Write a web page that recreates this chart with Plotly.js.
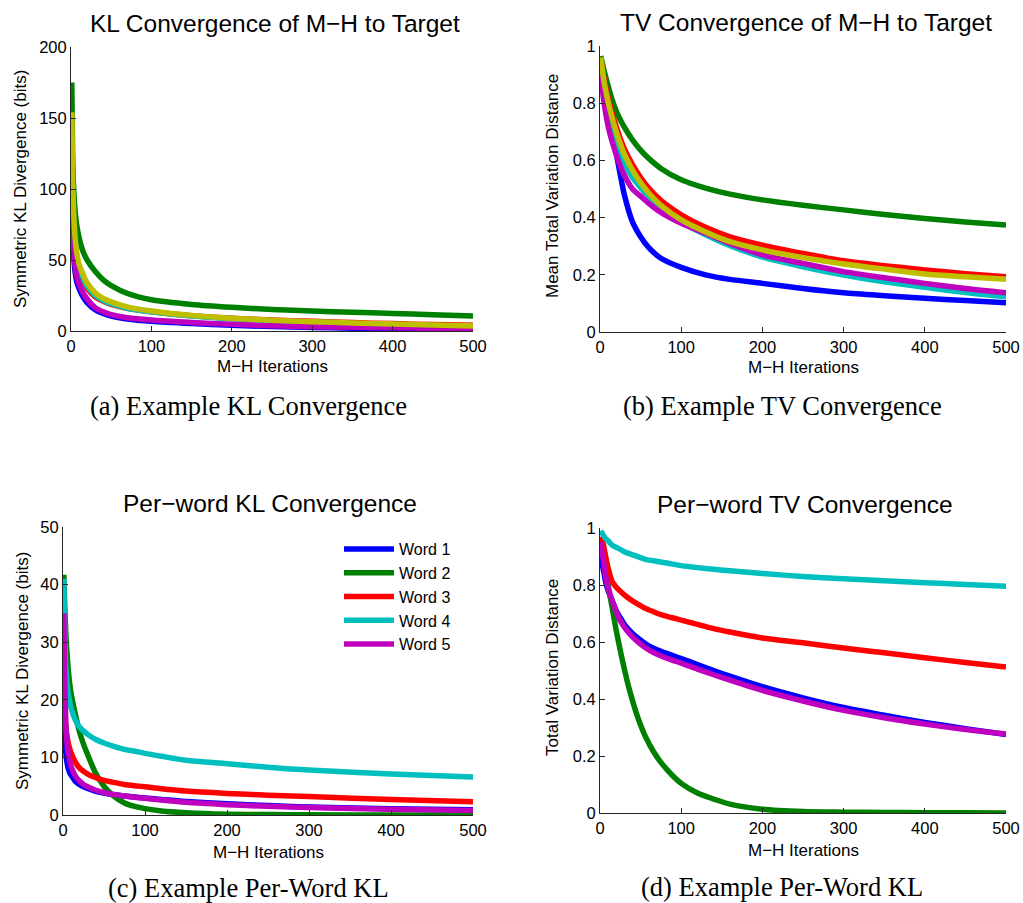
<!DOCTYPE html>
<html>
<head>
<meta charset="utf-8">
<script src="https://cdn.plot.ly/plotly-3.0.1.min.js"></script>
<style>
html,body{margin:0;padding:0;background:#fff;}
#chart{width:1023px;height:903px;}
</style>
</head>
<body>
<div id="chart"></div>
<script>
// ---------- DATA ----------
// (a) Symmetric KL divergence (bits) vs M-H iterations
var klX = [1, 2, 3, 5, 7, 10, 15, 20, 30, 40, 50, 70, 100, 150, 200, 250, 300, 350, 400, 450, 500];
var klBlue    = [85, 68, 56, 42, 35, 30, 24, 20, 15, 12.3, 10.5, 8.5, 6.8, 5.2, 4.0, 3.1, 2.5, 2.0, 1.6, 1.2, 0.9];
var klGreen   = [175, 125, 105, 85, 75, 66, 56, 50, 42, 36, 32, 26.5, 22, 18.7, 16.7, 15.2, 14.1, 13.2, 12.4, 11.5, 10.6];
var klRed     = [110, 90, 75, 58, 49, 42, 35, 30, 24, 21, 18.8, 16, 13.6, 10.8, 9.0, 7.7, 6.8, 5.9, 5.2, 4.5, 4.0];
var klCyan    = [120, 95, 80, 61, 51, 44, 37, 31.5, 25, 21.5, 19.2, 16, 13.5, 10.5, 8.6, 7.2, 6.2, 5.3, 4.5, 3.8, 3.2];
var klMagenta = [95, 75, 62, 47, 39, 33, 27, 22.5, 16.5, 13.5, 11.5, 9.3, 7.7, 6, 4.7, 3.7, 3.0, 2.6, 2.3, 1.8, 1.4];
var klYellow  = [154, 110, 88, 66, 56, 47, 40, 34, 27, 23, 20.5, 17, 14.1, 11, 8.9, 7.6, 6.6, 5.7, 4.9, 4.2, 3.5];

// (b) Mean total variation distance vs M-H iterations
var tvX = [1, 5, 10, 15, 20, 25, 30, 40, 50, 60, 75, 100, 130, 160, 200, 250, 300, 350, 400, 450, 500];
var tvBlue    = [0.88, 0.835, 0.77, 0.70, 0.625, 0.55, 0.48, 0.385, 0.333, 0.295, 0.258, 0.226, 0.2, 0.184, 0.17, 0.152, 0.137, 0.127, 0.118, 0.11, 0.102];
var tvGreen   = [0.965, 0.915, 0.86, 0.812, 0.773, 0.742, 0.716, 0.672, 0.636, 0.607, 0.572, 0.532, 0.503, 0.482, 0.462, 0.443, 0.427, 0.411, 0.397, 0.385, 0.374];
var tvRed     = [0.955, 0.885, 0.82, 0.765, 0.718, 0.676, 0.64, 0.585, 0.54, 0.503, 0.46, 0.41, 0.366, 0.333, 0.304, 0.275, 0.249, 0.232, 0.217, 0.204, 0.193];
var tvCyan    = [0.94, 0.85, 0.775, 0.715, 0.665, 0.625, 0.59, 0.54, 0.505, 0.475, 0.438, 0.385, 0.34, 0.302, 0.262, 0.228, 0.199, 0.176, 0.156, 0.138, 0.123];
var tvMagenta = [0.90, 0.80, 0.72, 0.665, 0.62, 0.58, 0.548, 0.50, 0.475, 0.45, 0.418, 0.38, 0.345, 0.31, 0.27, 0.24, 0.211, 0.19, 0.17, 0.152, 0.137];
var tvYellow  = [0.96, 0.875, 0.805, 0.748, 0.70, 0.658, 0.622, 0.566, 0.522, 0.486, 0.443, 0.392, 0.35, 0.316, 0.287, 0.26, 0.238, 0.22, 0.203, 0.193, 0.184];

// (c) Per-word symmetric KL divergence (bits)
var wordNames = ["Word 1", "Word 2", "Word 3", "Word 4", "Word 5"];
var pkX = [1, 2, 3, 4, 6, 8, 10, 15, 20, 25, 30, 40, 50, 60, 75, 90, 100, 120, 150, 200, 250, 300, 400, 500];
var pkWord1 = [25, 15, 11.5, 10, 8.3, 7.4, 6.9, 5.9, 5.3, 4.9, 4.6, 4.1, 3.8, 3.55, 3.3, 3.1, 2.95, 2.7, 2.35, 1.95, 1.65, 1.4, 1.1, 0.9];
var pkWord2 = [41.7, 37, 33, 30, 26, 23, 21, 17.5, 14.5, 12.3, 10.5, 7.2, 5, 3.5, 2.1, 1.4, 1.1, 0.7, 0.4, 0.15, 0.07, 0.03, 0.01, 0];
var pkWord3 = [22, 18.5, 16, 14.5, 12.8, 11.6, 10.7, 9.2, 8.2, 7.6, 7.1, 6.5, 6.0, 5.7, 5.3, 5.05, 4.9, 4.55, 4.15, 3.75, 3.45, 3.2, 2.7, 2.3];
var pkWord4 = [41, 32, 27, 24.5, 21.5, 19.8, 18.5, 16.5, 15.3, 14.6, 14, 13.1, 12.5, 12, 11.4, 11, 10.7, 10.2, 9.5, 8.9, 8.3, 7.8, 7.1, 6.6];
var pkWord5 = [35, 24, 18, 14.5, 11, 9.5, 8.4, 6.8, 5.9, 5.3, 4.9, 4.3, 3.9, 3.6, 3.3, 3.05, 2.9, 2.6, 2.2, 1.8, 1.5, 1.3, 1.0, 0.8];

// (d) Per-word total variation distance
var ptX = [1, 3, 5, 7, 10, 15, 20, 25, 30, 36, 46, 56, 66, 76, 88, 100, 120, 140, 160, 200, 250, 300, 350, 400, 450, 500];
var ptWord1 = [0.91, 0.87, 0.84, 0.81, 0.78, 0.745, 0.71, 0.685, 0.662, 0.642, 0.615, 0.594, 0.578, 0.566, 0.554, 0.542, 0.521, 0.5, 0.48, 0.443, 0.404, 0.37, 0.343, 0.318, 0.296, 0.275];
var ptWord2 = [0.96, 0.93, 0.90, 0.86, 0.80, 0.72, 0.64, 0.57, 0.505, 0.435, 0.34, 0.268, 0.215, 0.174, 0.135, 0.104, 0.07, 0.049, 0.031, 0.013, 0.005, 0.003, 0.002, 0.001, 0.0005, 0];
var ptWord3 = [0.97, 0.955, 0.93, 0.90, 0.86, 0.812, 0.792, 0.778, 0.765, 0.752, 0.734, 0.718, 0.706, 0.695, 0.686, 0.677, 0.662, 0.647, 0.635, 0.614, 0.597, 0.579, 0.562, 0.545, 0.528, 0.512];
var ptWord4 = [0.99, 0.98, 0.97, 0.963, 0.955, 0.94, 0.932, 0.925, 0.917, 0.91, 0.90, 0.89, 0.885, 0.88, 0.874, 0.868, 0.861, 0.855, 0.85, 0.84, 0.83, 0.822, 0.815, 0.808, 0.802, 0.796];
var ptWord5 = [0.95, 0.91, 0.87, 0.83, 0.79, 0.745, 0.705, 0.675, 0.652, 0.63, 0.602, 0.58, 0.563, 0.55, 0.537, 0.526, 0.505, 0.485, 0.466, 0.43, 0.393, 0.36, 0.334, 0.312, 0.293, 0.277];

// tick labels
var xTicks = [0, 100, 200, 300, 400, 500];
var klTicks = [0, 50, 100, 150, 200];
var tvTicks = [0, 0.2, 0.4, 0.6, 0.8, 1];
var tvTickText = ["0", "0.2", "0.4", "0.6", "0.8", "1"];
var pkTicks = [0, 10, 20, 30, 40, 50];

// texts
var titles = ["KL Convergence of M\u2212H to Target", "TV Convergence of M\u2212H to Target", "Per\u2212word KL Convergence", "Per\u2212word TV Convergence"];
var yTitles = ["Symmetric KL Divergence (bits)", "Mean Total Variation Distance", "Symmetric KL Divergence (bits)", "Total Variation Distance"];
var xTitle = "M\u2212H Iterations";
var captions = ["(a) Example KL Convergence", "(b) Example TV Convergence", "(c) Example Per-Word KL", "(d) Example Per-Word KL"];

// ---------- STYLE ----------
var C = {blue:'#0000ff', green:'#008000', red:'#ff0000', cyan:'#00bfbf', magenta:'#bf00bf', yellow:'#bfbf00'};
var LW = 5.5;
var W = 1023, H = 903;
var sans = 'Liberation Sans, Arial, Helvetica, sans-serif';
var serif = 'Liberation Serif, Times New Roman, serif';

function tr(x, y, color, xa, ya, name, show) {
  return {x: x, y: y, type: 'scatter', mode: 'lines', xaxis: xa, yaxis: ya,
    name: name || '', showlegend: !!show,
    line: {color: color, width: LW, shape: 'spline', smoothing: 0.8}, hoverinfo: 'skip'};
}

var data = [
  tr(klX, klBlue, C.blue, 'x', 'y'),
  tr(klX, klGreen, C.green, 'x', 'y'),
  tr(klX, klRed, C.red, 'x', 'y'),
  tr(klX, klCyan, C.cyan, 'x', 'y'),
  tr(klX, klMagenta, C.magenta, 'x', 'y'),
  tr(klX, klYellow, C.yellow, 'x', 'y'),

  tr(tvX, tvBlue, C.blue, 'x2', 'y2'),
  tr(tvX, tvGreen, C.green, 'x2', 'y2'),
  tr(tvX, tvRed, C.red, 'x2', 'y2'),
  tr(tvX, tvCyan, C.cyan, 'x2', 'y2'),
  tr(tvX, tvMagenta, C.magenta, 'x2', 'y2'),
  tr(tvX, tvYellow, C.yellow, 'x2', 'y2'),

  tr(pkX, pkWord1, C.blue, 'x3', 'y3', wordNames[0], true),
  tr(pkX, pkWord2, C.green, 'x3', 'y3', wordNames[1], true),
  tr(pkX, pkWord3, C.red, 'x3', 'y3', wordNames[2], true),
  tr(pkX, pkWord4, C.cyan, 'x3', 'y3', wordNames[3], true),
  tr(pkX, pkWord5, C.magenta, 'x3', 'y3', wordNames[4], true),

  tr(ptX, ptWord1, C.blue, 'x4', 'y4'),
  tr(ptX, ptWord2, C.green, 'x4', 'y4'),
  tr(ptX, ptWord3, C.red, 'x4', 'y4'),
  tr(ptX, ptWord4, C.cyan, 'x4', 'y4'),
  tr(ptX, ptWord5, C.magenta, 'x4', 'y4')
];

function axis(p0, p1, horizontal, range, tickvals, ticktext, anchor) {
  var d = horizontal ? [p0 / W, p1 / W] : [1 - p1 / H, 1 - p0 / H];
  return {domain: d, range: range, anchor: anchor, tickmode: 'array', tickvals: tickvals,
    ticktext: ticktext || tickvals.map(String),
    showline: true, linecolor: '#262626', linewidth: 1, mirror: false,
    ticks: 'inside', ticklen: 5, tickwidth: 1, tickcolor: '#262626',
    showgrid: false, zeroline: false, fixedrange: true,
    tickfont: {family: sans, size: 16.5, color: '#000'}};
}

function ann(px, py, text, size, family, angle) {
  return {xref: 'paper', yref: 'paper', x: px / W, y: 1 - py / H, text: text, showarrow: false,
    xanchor: 'center', yanchor: 'middle', textangle: angle || 0,
    font: {family: family, size: size, color: '#000'}};
}

var layout = {
  width: W, height: H, autosize: false,
  margin: {l: 0, r: 0, t: 0, b: 0, pad: 0},
  paper_bgcolor: '#fff', plot_bgcolor: '#fff',
  xaxis:  axis(71, 473, true, [0, 500], xTicks, null, 'y'),
  yaxis:  axis(47, 331, false, [0, 200], klTicks, null, 'x'),
  xaxis2: axis(600, 1006, true, [0, 500], xTicks, null, 'y2'),
  yaxis2: axis(46, 332, false, [0, 1], tvTicks, tvTickText, 'x2'),
  xaxis3: axis(63, 473, true, [0, 500], xTicks, null, 'y3'),
  yaxis3: axis(527, 815, false, [0, 50], pkTicks, null, 'x3'),
  xaxis4: axis(600, 1006, true, [0, 500], xTicks, null, 'y4'),
  yaxis4: axis(528, 813, false, [0, 1], tvTicks, tvTickText, 'x4'),
  showlegend: true,
  legend: {x: 339 / W, y: 1 - 532 / H, xanchor: 'left', yanchor: 'top',
    bgcolor: 'rgba(0,0,0,0)', borderwidth: 0, font: {family: sans, size: 16, color: '#000'},
    itemwidth: 50, tracegroupgap: 0, itemclick: false, itemdoubleclick: false},
  annotations: [
    ann(275, 24, titles[0], 24.5, sans),
    ann(806, 23, titles[1], 24.5, sans),
    ann(270, 503, titles[2], 24.5, sans),
    ann(805, 504, titles[3], 24.5, sans),

    ann(272, 367, xTitle, 17, sans),
    ann(803, 368, xTitle, 17, sans),
    ann(268, 852, xTitle, 17, sans),
    ann(803, 850, xTitle, 17, sans),

    ann(20, 189, yTitles[0], 17, sans, -90),
    ann(552, 186, yTitles[1], 17, sans, -90),
    ann(22, 671, yTitles[2], 17, sans, -90),
    ann(552, 668, yTitles[3], 17, sans, -90),

    ann(248, 406, captions[0], 26.5, serif),
    ann(782, 406, captions[1], 26.5, serif),
    ann(248, 888, captions[2], 26.5, serif),
    ann(782, 887, captions[3], 26.5, serif)
  ]
};

Plotly.newPlot('chart', data, layout, {displayModeBar: false, staticPlot: true});
</script>
</body>
</html>
